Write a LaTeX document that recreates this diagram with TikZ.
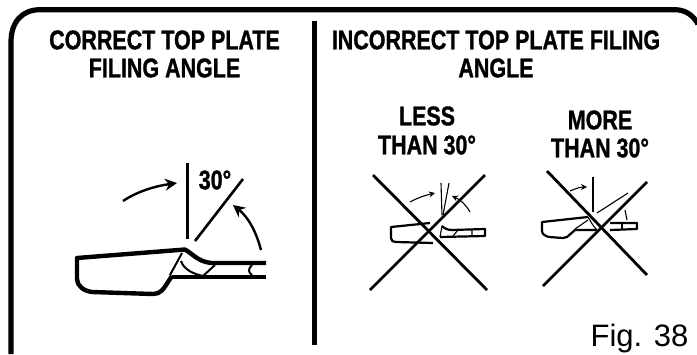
\documentclass[tikz,border=0pt]{standalone}
\usepackage{fontspec}
\setmainfont{Liberation Sans}
\newfontfamily\hdfont[BoldFeatures={FakeBold=1.3}]{Liberation Sans}
\usetikzlibrary{arrows.meta}
\newcommand{\nar}[1]{\scalebox{.795}[1]{#1}}
\tikzset{
 x=1pt,y=-1pt,
 head/.style={font=\hdfont\bfseries\fontsize{27}{28}\selectfont,align=center,inner sep=0pt},
 tool/.style={line width=4.4pt,line join=round},
 toolthin/.style={line width=2pt,line join=round},
 small/.style={line width=2.2pt,line join=round},
 smallthin/.style={line width=1.1pt},
 arr/.style={line width=2.4pt,-{Stealth[length=12pt,width=12pt]}},
 sarr/.style={line width=1.1pt,-{Stealth[length=6pt,width=6pt]}},
 cross/.style={line width=2.8pt}
}
\begin{document}
\begin{tikzpicture}
\useasboundingbox (0,0) rectangle (697,354);
% frame
\draw[line width=5.2pt] (11,354) -- (11,42) .. controls (11,22) and (22,9.7) .. (40,9.7) -- (675,9.7) .. controls (685,9.7) and (693,15) .. (698,24);
\draw[line width=5pt] (314.5,21) -- (314.5,345);
% titles
\node[head,anchor=center] (t1a) at (164.5,40) {\nar{CORRECT TOP PLATE}};
\node[head] (t1b) at (164.5,68) {\nar{FILING ANGLE}};
\node[head] (t2a) at (496,40) {\nar{INCORRECT TOP PLATE FILING}};
\node[head] (t2b) at (496,68) {\nar{ANGLE}};
\node[head] (t3a) at (427,116) {\nar{LESS}};
\node[head] (t3b) at (427,145) {\nar{THAN 30°}};
\node[head] (t4a) at (600,120) {\nar{MORE}};
\node[head] (t4b) at (600,148) {\nar{THAN 30°}};
\node[head] (a30) at (215,180) {\nar{30°}};
\node[font=\fontsize{31}{32}\selectfont,inner sep=0pt,anchor=base east] (fig) at (688.5,346) {Fig. 38};
% large tool
\draw[tool] (172,276) -- (168,282) .. controls (163,290) and (160,294) .. (153,294) -- (92,292) .. controls (84,291) and (77,286) .. (77,279) -- (77,258) -- (185,249.5) .. controls (193,254) and (200,264) .. (216,263) -- (266,263);
\draw[tool] (172,277) -- (266,277);
\draw[toolthin] (182,253) -- (170,275);
\draw[toolthin] (181,261) .. controls (184,270) and (194,274) .. (203,276);
\draw[toolthin] (215,265) -- (203,276);
\draw[toolthin] (252,265) .. controls (248,269) and (248,272) .. (252,275);
% large angle marks
\draw[line width=3pt] (187,163) -- (187,239);
\draw[line width=2.6pt] (195,241) -- (243,179);
\draw[arr] (123,201) .. controls (138,191) and (156,186) .. (177,183);
\draw[arr] (261,250) .. controls (256,231) and (248,217) .. (233,205);
% small tool left
\draw[small] (430,223) -- (391,227) -- (391,238) .. controls (391,241) and (393,242) .. (396,242) -- (433,243);
\draw[small] (442,226) .. controls (444,228) and (447,230) .. (452,230) -- (485,229) -- (485,236) -- (440,237);
\draw[smallthin] (472,230) -- (472,236) (453,236) -- (458,230) (442,226) -- (440,237);
\draw[smallthin] (441,183) -- (442,215);
\draw[smallthin] (449,183) -- (443,215);
\draw[sarr] (410,202) .. controls (419,197) and (427,195) .. (435,193);
\draw[sarr] (470,212) .. controls (466,205) and (461,200) .. (452,196);
% small tool right
\draw[small] (597,230) -- (575,230) -- (567,237) -- (563,238) -- (549,237) .. controls (545,236) and (542,234) .. (542,231) -- (542,222) -- (588,217);
\draw[smallthin] (588,217) .. controls (591,222) and (593,226) .. (597,230);
\draw[smallthin] (588,220) -- (575,229);
\draw[small] (610,223) -- (637,223) -- (637,229) -- (610,230);
\draw[smallthin] (622,224) -- (622,229);
\draw[smallthin] (593,177) -- (593,212);
\draw[smallthin] (597,213) -- (628,193);
\draw[sarr] (570,191) .. controls (577,188) and (581,187) .. (587,187);
\draw[smallthin] (625,210) -- (627,220);
% crosses
\draw[cross] (373,175) -- (487,290);
\draw[cross] (485,175) -- (370,290);
\draw[cross] (547,171) -- (647,275);
\draw[cross] (647,182) -- (543,286);
\end{tikzpicture}
\end{document}
